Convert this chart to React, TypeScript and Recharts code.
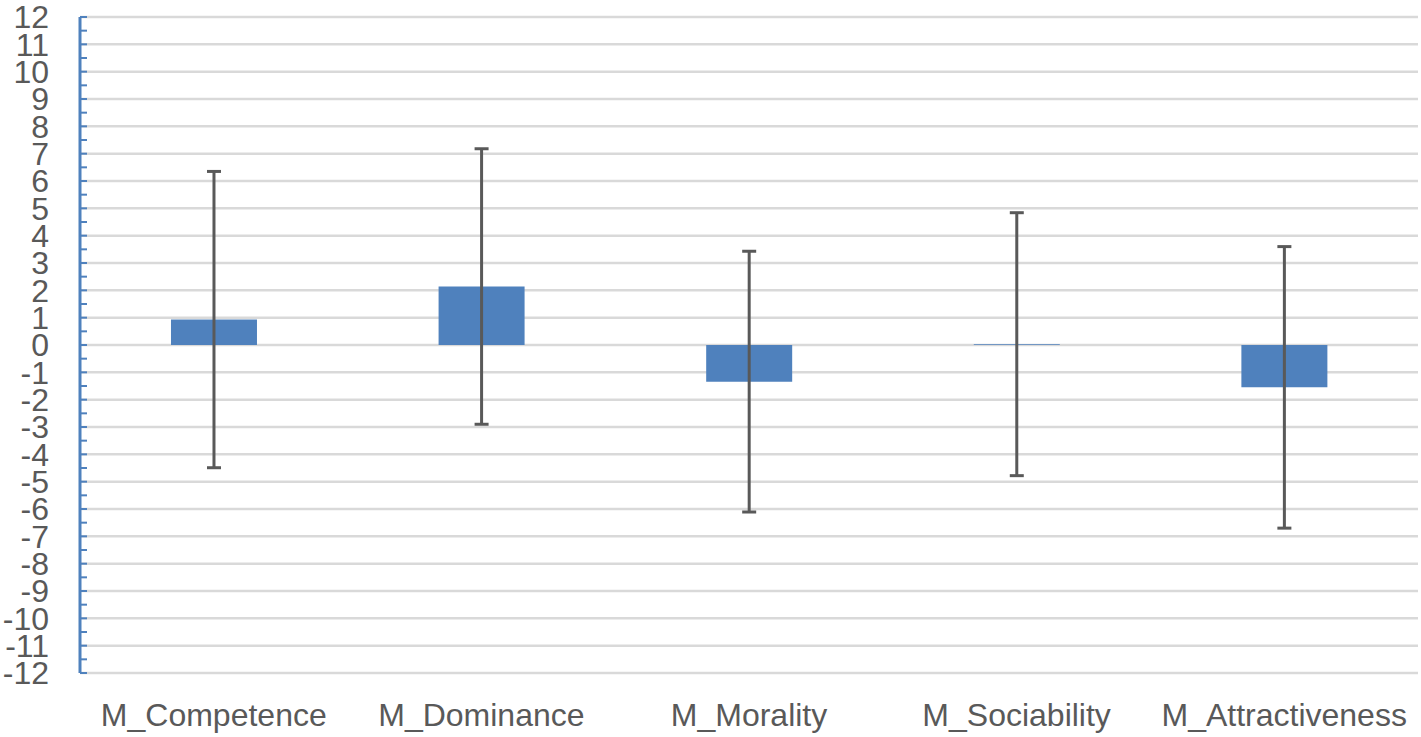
import { BarChart, Bar, XAxis, YAxis, CartesianGrid, ErrorBar } from 'recharts'

// categories, means and +/- error
const categories = ['M_Competence', 'M_Dominance', 'M_Morality', 'M_Sociability', 'M_Attractiveness']
const means = [0.93, 2.14, -1.34, 0.03, -1.55]
const errors = [5.42, 5.04, 4.77, 4.81, 5.15]

const yTicks = [-12, -11, -10, -9, -8, -7, -6, -5, -4, -3, -2, -1, 0, 1, 2, 3, 4, 5, 6, 7, 8, 9, 10, 11, 12]

const data = categories.map((name, i) => ({ name, mean: means[i], err: errors[i] }))

// major + half-step minor ticks on the axis
const axisTicks = yTicks.flatMap((t) => (t < 12 ? [t, t + 0.5] : [t]))

const FONT = '"Liberation Sans", Arial, sans-serif'
const TEXT = '#595959'
const BLUE = '#4F81BD'

function YTick(props: any) {
  const { x, y, payload } = props
  const isMajor = Number.isInteger(payload.value)
  return (
    <g>
      <line x1={x} x2={x + 7} y1={y} y2={y} stroke={BLUE} strokeWidth={2} />
      {isMajor && (
        <text x={49} y={y} dy="0.355em" textAnchor="end" fill={TEXT} fontSize={32} fontFamily={FONT}>
          {payload.value}
        </text>
      )}
    </g>
  )
}

export default function App() {
  return (
    <div style={{ position: 'absolute', left: 0, top: 0, background: 'white' }}>
      <BarChart
        width={1421}
        height={737}
        data={data}
        margin={{ top: 17, right: 3, bottom: 0, left: 0 }}
        barCategoryGap="34%"
      >
        <CartesianGrid vertical={false} stroke="#D9D9D9" strokeWidth={2.5} horizontalValues={yTicks} />
        <XAxis
          dataKey="name"
          height={64}
          axisLine={false}
          tickLine={false}
          tickSize={0}
          tickMargin={30}
          interval={0}
          tick={{ fill: TEXT, fontSize: 32, fontFamily: FONT }}
        />
        <YAxis
          width={80}
          domain={[-12, 12]}
          ticks={axisTicks}
          interval={0}
          allowDataOverflow
          axisLine={{ stroke: BLUE, strokeWidth: 3 }}
          tickLine={false}
          tickSize={0}
          tickMargin={0}
          tick={<YTick />}
        />
        <Bar dataKey="mean" fill={BLUE} isAnimationActive={false}>
          <ErrorBar dataKey="err" width={7} stroke={TEXT} strokeWidth={3} direction="y" />
        </Bar>
      </BarChart>
    </div>
  )
}
